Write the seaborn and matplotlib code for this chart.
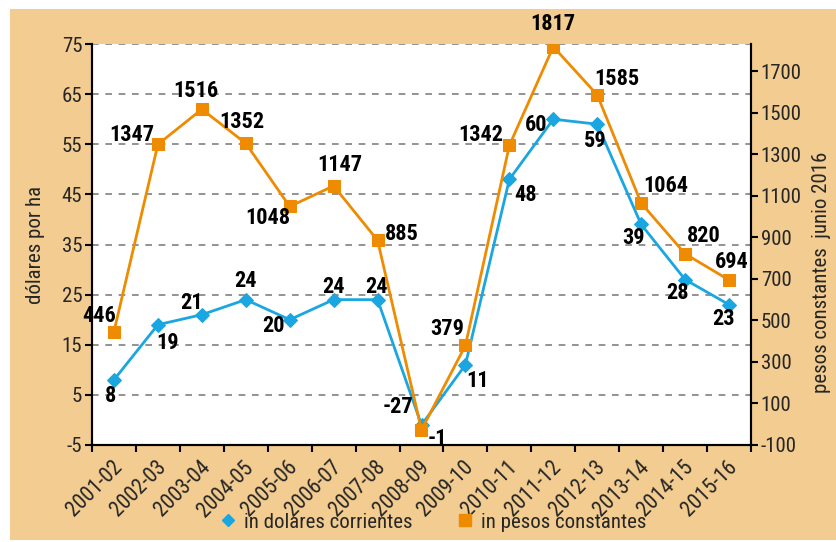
import numpy as np
import pandas as pd
import matplotlib
matplotlib.use("Agg")
import matplotlib.pyplot as plt
import matplotlib.transforms as mtransforms
from matplotlib import font_manager
from matplotlib.patches import Rectangle
from matplotlib.lines import Line2D
import seaborn as sns


campanas = ["2001-02", "2002-03", "2003-04", "2004-05", "2005-06", "2006-07", "2007-08",
            "2008-09", "2009-10", "2010-11", "2011-12", "2012-13", "2013-14", "2014-15", "2015-16"]
dolares = [8, 19, 21, 24, 20, 24, 24, -1, 11, 48, 60, 59, 39, 28, 23]
pesos = [446, 1347, 1516, 1352, 1048, 1147, 885, -27, 379, 1342, 1817, 1585, 1064, 820, 694]

# label offsets in pixels (dx, dy) from each point
off_dolares = [(-3, -16), (10, -18), (-10, 12), (0, 19), (-16, -6), (0, 13), (-1, 13),
               (16, -14), (12, -16), (16, -16), (-17, -6), (-2, -17), (-8, -14), (-8, -13), (-6, -14)]
off_pesos = [(-15, 16), (-26, 9), (-6, 18), (-4, 21), (-22, -12), (6, 21), (24, 6),
             (-23, 23), (-18, 16), (-29, 10), (0, 23), (20, 16), (25, 17), (19, 18), (3, 18)]

BLUE = "#1aa6e0"
ORANGE = "#ee8b00"
TAN = "#f2cc90"

sns.set_style("white")
names = {f.name for f in font_manager.fontManager.ttflist}
fam = "DejaVu Sans"
for cand in ["Liberation Sans Narrow", "Roboto Condensed", "Open Sans Condensed", "Liberation Sans"]:
    if cand in names:
        fam = cand
        break
plt.rcParams["font.family"] = [fam, "DejaVu Sans"]
plt.rcParams["axes.unicode_minus"] = False

df = pd.DataFrame({"x": np.arange(len(campanas)), "dolares": dolares, "pesos": pesos})

fig = plt.figure(figsize=(8.36, 5.42), dpi=100)
fig.patch.set_facecolor("white")
fig.patches.append(Rectangle((10 / 836, 2 / 542), 1, (542 - 11) / 542, transform=fig.transFigure,
                             facecolor=TAN, edgecolor="none", zorder=-10))

ax = fig.add_axes([92 / 836, 97 / 542, 659 / 836, 401 / 542])
ax.set_facecolor("white")
ax2 = ax.twinx()

sns.lineplot(data=df, x="x", y="dolares", ax=ax, color=BLUE, marker="D", markersize=7,
             markeredgecolor=BLUE, linewidth=2, zorder=3)
sns.lineplot(data=df, x="x", y="pesos", ax=ax2, color=ORANGE, marker="s", markersize=8.5,
             markeredgecolor=ORANGE, linewidth=2, zorder=3)

ax.set_ylim(-5, 75)
ax.set_yticks(np.arange(-5, 76, 10))
ax2.set_ylim(-100, 1830)
ax2.set_yticks(np.arange(-100, 1701, 200))
ax.set_xlim(-0.5, len(campanas) - 0.5)

ax.yaxis.grid(True, color="#808080", linestyle=(0, (4, 4)), linewidth=1.2)
ax.set_axisbelow(True)

for s in ["top"]:
    ax.spines[s].set_visible(False)
    ax2.spines[s].set_visible(False)
for a in [ax, ax2]:
    for s in ["left", "right", "bottom"]:
        a.spines[s].set_color("black")
        a.spines[s].set_linewidth(1.5)

ax.set_xticks(np.arange(-0.5, len(campanas), 1))
ax.set_xticklabels([])
ax.set_xticks(np.arange(len(campanas)), minor=True)
ax.set_xticklabels(campanas, minor=True, rotation=45, ha="right", rotation_mode="anchor",
                   fontsize=15.5, va="center")
ax.tick_params(axis="x", which="major", direction="out", length=5, width=1.5, color="black", bottom=True)
ax.tick_params(axis="x", which="minor", length=0, pad=14)
shift = mtransforms.ScaledTranslation(5 / 100, 0, fig.dpi_scale_trans)
for lab in ax.get_xticklabels(minor=True):
    lab.set_transform(lab.get_transform() + shift)

ax.tick_params(axis="y", direction="out", length=5, width=1.5, color="black", left=True,
               labelsize=15, pad=2)
ax2.tick_params(axis="y", direction="out", length=5, width=1.5, color="black", right=True,
                labelsize=15, pad=2)

ax.set_xlabel("")
ax.set_ylabel("dólares por ha", fontsize=15, labelpad=12)
ax2.set_ylabel("pesos constantes  junio 2016", fontsize=15)
ax2.yaxis.set_label_coords(1.092, 0.43)

for i, v in enumerate(dolares):
    dx, dy = off_dolares[i]
    ax.annotate(str(v), (i, v), xytext=(dx, dy), textcoords="offset pixels", ha="center",
                va="center", fontsize=16, fontweight="bold", color="black", zorder=5)
for i, v in enumerate(pesos):
    dx, dy = off_pesos[i]
    ax2.annotate(str(v), (i, v), xytext=(dx, dy), textcoords="offset pixels", ha="center",
                 va="center", fontsize=16, fontweight="bold", color="black", zorder=5,
                 annotation_clip=False)

handles = [Line2D([], [], linestyle="none", marker="D", color=BLUE, markersize=6),
           Line2D([], [], linestyle="none", marker="s", color=ORANGE, markersize=8)]
fig.legend(handles, ["in dolares corrientes", "in pesos constantes"], loc="center",
           bbox_to_anchor=(432 / 836, (542 - 522) / 542), ncol=2, frameon=False, fontsize=15,
           handletextpad=0.3, columnspacing=2.0, handlelength=1)

fig.savefig("out.png", dpi=100, facecolor=fig.get_facecolor())
